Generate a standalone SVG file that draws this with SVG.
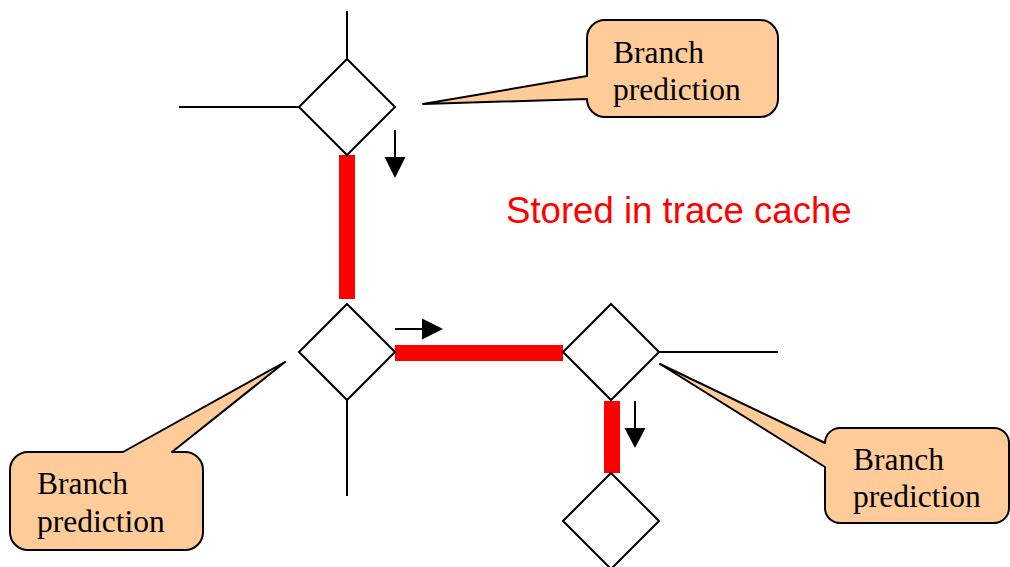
<svg xmlns="http://www.w3.org/2000/svg" width="1010" height="567" viewBox="0 0 1010 567">
<style>
.dia{fill:#fff;stroke:#000;stroke-width:2}
.ln{stroke:#000;stroke-width:2;fill:none}
.red{fill:#ff0000}
.call{fill:#ffcc99;stroke:#000;stroke-width:2;stroke-linejoin:round}
.ct{font-family:"Liberation Serif","Times New Roman",serif;font-size:31.5px;fill:#000}
.ah{fill:#000}
</style>
<rect width="1010" height="567" fill="#fff"/>
<g id="connectors">
<line class="ln" x1="347" y1="11" x2="347" y2="59"/>
<line class="ln" x1="179" y1="107" x2="299" y2="107"/>
<line class="ln" x1="347" y1="400" x2="347" y2="496"/>
<line class="ln" x1="659" y1="352" x2="778" y2="352"/>
<rect class="red" x="339" y="155" width="16" height="144"/>
<rect class="red" x="395" y="345" width="168" height="16"/>
<rect class="red" x="604" y="401" width="16" height="72"/>
<line class="ln" x1="395" y1="130" x2="395" y2="159"/>
<polygon class="ah" points="384.5,157 405.5,157 395,178"/>
<line class="ln" x1="395" y1="329" x2="424" y2="329"/>
<polygon class="ah" points="422,318.5 422,339.5 443,329"/>
<line class="ln" x1="635" y1="401" x2="635" y2="430"/>
<polygon class="ah" points="624.5,428 645.5,428 635,448"/>
</g>
<g id="d1"><polygon class="dia" points="347,59 395,107 347,155 299,107"/></g>
<g id="d2"><polygon class="dia" points="347,304 395,352 347,400 299,352"/></g>
<g id="d3"><polygon class="dia" points="611,304 659,352 611,400 563,352"/></g>
<g id="d4"><polygon class="dia" points="611,473 659,521 611,569 563,521"/></g>
<g id="label">
<text x="506" y="223" font-family="Liberation Sans, Arial, sans-serif" font-size="36.6" fill="#ff0000">Stored in trace cache</text>
</g>
<g id="callout1">
<path class="call" d="M605,20 H760 A18,18 0 0 1 778,38 V99 A18,18 0 0 1 760,117 H605 A18,18 0 0 1 587,99 L423,104 L587,76 V38 A18,18 0 0 1 605,20 Z"/>
<text class="ct" x="613" y="63">Branch</text>
<text class="ct" x="613" y="100">prediction</text>
</g>
<g id="callout2">
<path class="call" d="M28,452 H123 L285,362 L172,452 H185 A18,18 0 0 1 203,470 V532 A18,18 0 0 1 185,550 H28 A18,18 0 0 1 10,532 V470 A18,18 0 0 1 28,452 Z"/>
<text class="ct" x="37" y="494">Branch</text>
<text class="ct" x="37" y="532">prediction</text>
</g>
<g id="callout3">
<path class="call" d="M840,428 H994 A15,15 0 0 1 1009,443 V508 A15,15 0 0 1 994,523 H840 A15,15 0 0 1 825,508 V467 L660,364 L825,443 A15,15 0 0 1 840,428 Z"/>
<text class="ct" x="853" y="470">Branch</text>
<text class="ct" x="853" y="507">prediction</text>
</g>
</svg>
